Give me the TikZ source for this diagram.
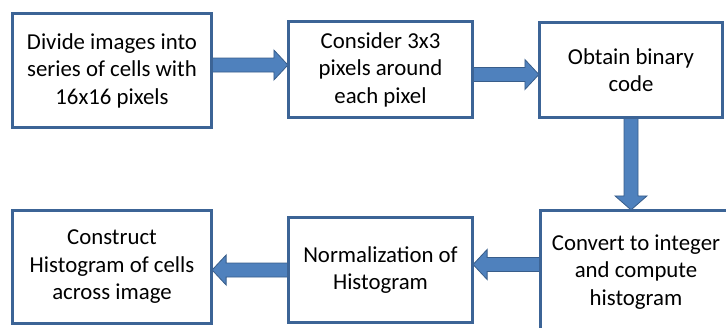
\documentclass[tikz,border=0pt]{standalone}
\usepackage{fontspec}
\setmainfont{Carlito}
\usetikzlibrary{calc}
\definecolor{boxline}{HTML}{3C6496}
\definecolor{arrfill}{HTML}{4F81BD}
\definecolor{arrline}{HTML}{385D8A}
\begin{document}
\begin{tikzpicture}[x=1pt,y=-1pt,
  box/.style={draw=boxline, line width=2.2pt, fill=white, align=center,
    font=\fontsize{22.8}{27.5}\selectfont, inner sep=0pt},
  barrow/.style={fill=arrfill, draw=arrline, line width=0.8pt, line join=miter}]
\useasboundingbox (0,0) rectangle (726,327);
\clip (0,0) rectangle (726,327);
% boxes (placed first for anchors; borders redrawn on top later)
\path
  (112,70.5) node[box, minimum width=198pt, minimum height=113pt] (b1) {Divide images into\\series of cells with\\16x16 pixels}
  (380.5,69.5) node[box, minimum width=183pt, minimum height=95pt] (b2) {Consider 3x3\\pixels around\\each pixel}
  (631,70) node[box, minimum width=182pt, minimum height=94pt] (b3) {Obtain binary\\code}
  (636,272) node[box, minimum width=190pt, minimum height=122pt] (b4) {Convert to integer\\and compute\\histogram}
  (380.5,270) node[box, minimum width=183pt, minimum height=104pt] (b5) {Normalization of\\Histogram}
  (112,267) node[box, minimum width=198pt, minimum height=112pt] (b6) {Construct\\Histogram of cells\\across image};
% arrows
\draw[barrow] let \p1=($(b1.east)+(0,-5.5)$), \p2=(b2.west) in
  (\x1,\y1+7pt) -- (\x2-14pt,\y1+7pt) -- (\x2-14pt,\y1+15pt) -- (\x2,\y1)
  -- (\x2-14pt,\y1-15pt) -- (\x2-14pt,\y1-7pt) -- (\x1,\y1-7pt) -- cycle;
\draw[barrow] let \p1=($(b2.east)+(0,5)$), \p2=(b3.west) in
  (\x1,\y1+7pt) -- (\x2-14pt,\y1+7pt) -- (\x2-14pt,\y1+15pt) -- (\x2,\y1)
  -- (\x2-14pt,\y1-15pt) -- (\x2-14pt,\y1-7pt) -- (\x1,\y1-7pt) -- cycle;
\draw[barrow] let \p1=(b3.south), \p2=(b4.north) in
  (\x1-7pt,\y1) -- (\x1-7pt,\y2+14pt) -- (\x1-16pt,\y2+14pt) -- (\x1,\y2)
  -- (\x1+16pt,\y2+14pt) -- (\x1+7pt,\y2+14pt) -- (\x1+7pt,\y1) -- cycle;
\draw[barrow] let \p1=($(b4.west)+(0,-7.5)$), \p2=(b5.east) in
  (\x1,\y1+7pt) -- (\x2+14pt,\y1+7pt) -- (\x2+14pt,\y1+15pt) -- (\x2,\y1)
  -- (\x2+14pt,\y1-15pt) -- (\x2+14pt,\y1-7pt) -- (\x1,\y1-7pt) -- cycle;
\draw[barrow] let \p1=(b5.west), \p2=(b6.east) in
  (\x1,\y1+7pt) -- (\x2+14pt,\y1+7pt) -- (\x2+14pt,\y1+15pt) -- (\x2,\y1)
  -- (\x2+14pt,\y1-15pt) -- (\x2+14pt,\y1-7pt) -- (\x1,\y1-7pt) -- cycle;
% box borders on top of arrow ends
\foreach \b in {b1,b2,b3,b4,b5,b6}
  \draw[boxline, line width=2.2pt] (\b.north west) rectangle (\b.south east);
\end{tikzpicture}
\end{document}
